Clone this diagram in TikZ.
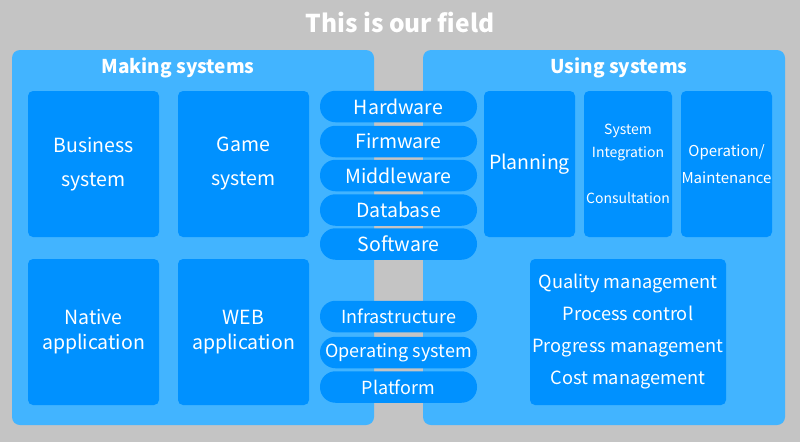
\documentclass[tikz,border=0pt]{standalone}
\usepackage{fontspec}
\setmainfont{Noto Sans CJK JP}
\definecolor{bggray}{HTML}{C4C4C4}
\definecolor{lightblue}{HTML}{42B4FF}
\definecolor{darkblue}{HTML}{0091FF}
\tikzset{
  panel/.style={fill=lightblue, rounded corners=8pt, draw=none},
  bigbox/.style={fill=darkblue, rounded corners=5pt, draw=none, text=white, align=center, inner sep=0pt},
  pill/.style={fill=darkblue, rounded corners=15.5pt, draw=none, text=white, minimum width=157pt, minimum height=31.5pt, inner sep=0pt, font=\fontsize{19.5}{22}\selectfont},
  pillsmall/.style={pill, font=\fontsize{18}{20}\selectfont},
  heading/.style={text=white, font=\bfseries\fontsize{19}{22}\selectfont},
}
\begin{document}
\begin{tikzpicture}[x=1pt,y=-1pt]
\useasboundingbox (0,0) rectangle (800,442);
\fill[bggray] (0,0) rectangle (800,442);
\node[text=white, font=\bfseries\fontsize{24.5}{28}\selectfont] (title) at (400,22) {This is our field};
% panels
\node[panel, minimum width=362pt, minimum height=375pt] (left) at (193,237.5) {};
\node[panel, minimum width=362pt, minimum height=375pt] (right) at (604,237.5) {};
\node[heading] (lhead) at (178,68) {Making systems};
\node[heading] (rhead) at (619,68) {Using systems};
% left boxes
\node[bigbox, minimum width=131pt, minimum height=146pt, font=\fontsize{19.5}{34}\selectfont] (bus) at (93.5,164) {Business\\system};
\node[bigbox, minimum width=131pt, minimum height=146pt, font=\fontsize{19.5}{34}\selectfont] (game) at (243.5,164) {Game\\system};
\node[bigbox, minimum width=131pt, minimum height=146pt, font=\fontsize{19.5}{25}\selectfont] (native) at (93.5,332) {Native\\application};
\node[bigbox, minimum width=131pt, minimum height=146pt, font=\fontsize{19.5}{25}\selectfont] (web) at (243.5,332) {WEB\\application};
% pills
\node[pill] (hw) at (398.5,106.5) {Hardware};
\node[pill] (fw) at (398.5,141.5) {Firmware};
\node[pill] (mw) at (398.5,175.5) {Middleware};
\node[pill] (db) at (398.5,210) {Database};
\node[pill] (sw) at (398.5,244) {Software};
\node[pillsmall] (inf) at (398.5,316.5) {Infrastructure};
\node[pillsmall] (os) at (398.5,352.5) {Operating system};
\node[pillsmall] (pf) at (398.5,387) {Platform};
% right boxes
\node[bigbox, minimum width=91pt, minimum height=146pt, font=\fontsize{19.5}{25}\selectfont] (plan) at (529.5,164) {Planning};
\node[bigbox, minimum width=88pt, minimum height=146pt, font=\fontsize{14}{23}\selectfont] (si) at (628,164) {System\\Integration\\[23pt]Consultation};
\node[bigbox, minimum width=91pt, minimum height=146pt, font=\fontsize{15}{27}\selectfont] (op) at (726.5,164) {Operation/\\Maintenance};
\node[bigbox, minimum width=196pt, minimum height=146pt, font=\fontsize{18.2}{32}\selectfont] (qm) at (628,332) {Quality management\\Process control\\Progress management\\Cost management};
\end{tikzpicture}
\end{document}
